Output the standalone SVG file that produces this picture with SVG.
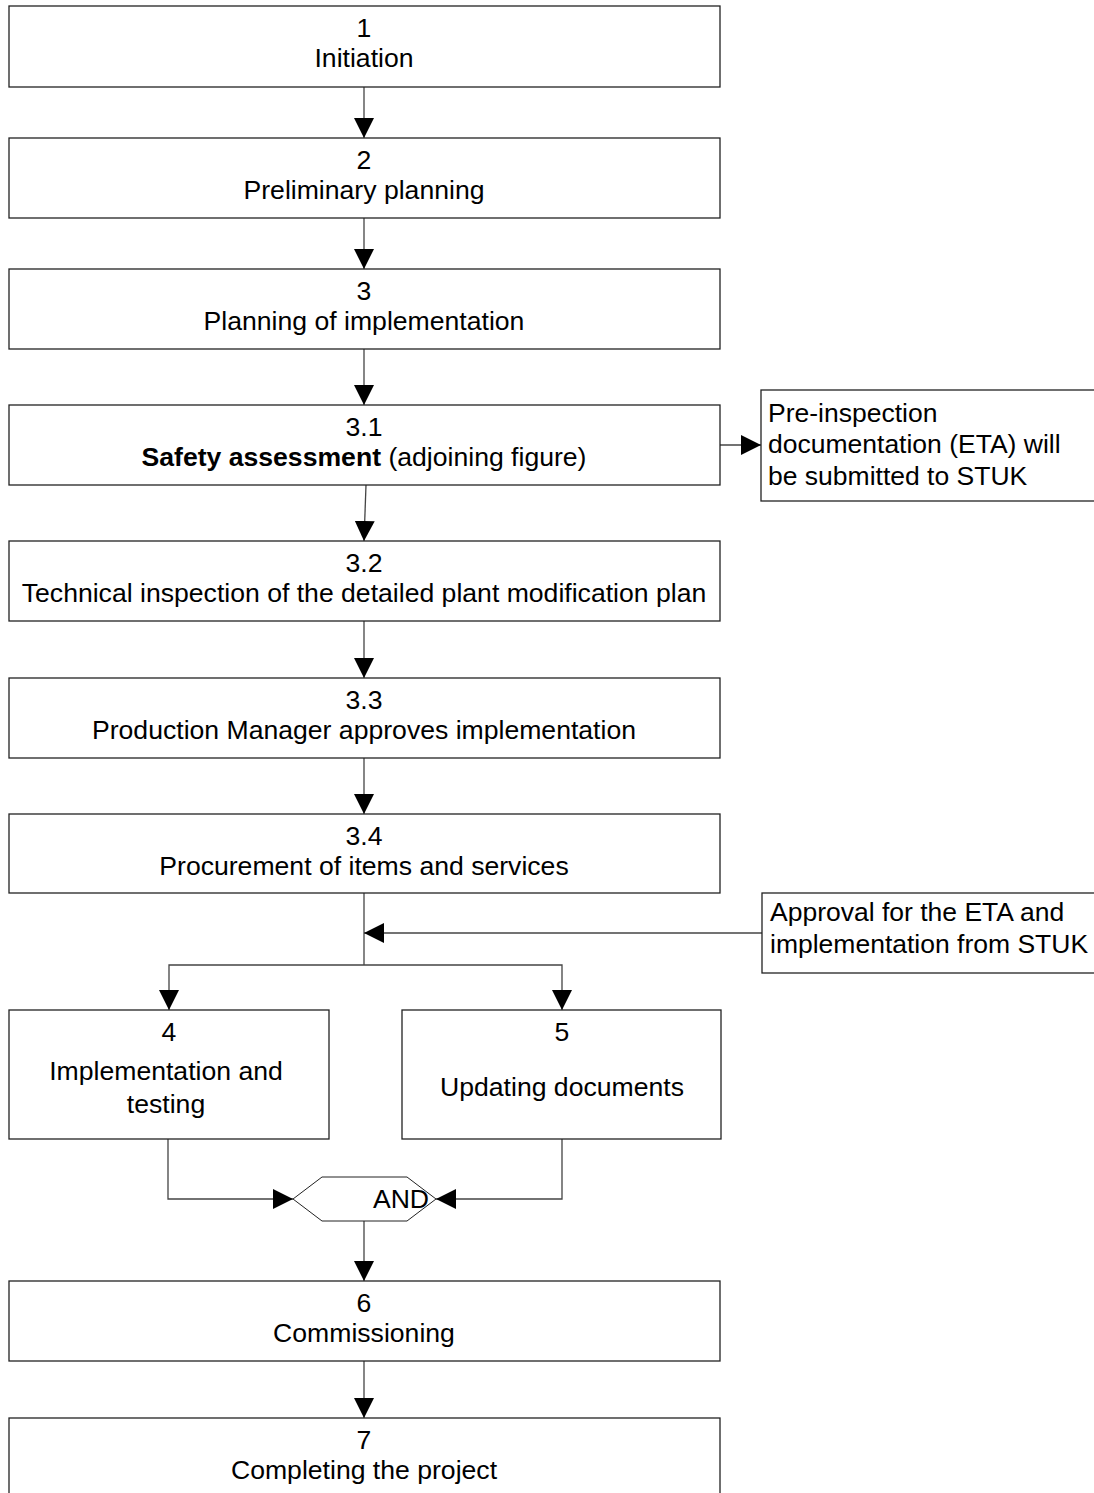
<svg xmlns="http://www.w3.org/2000/svg" width="1094" height="1493" viewBox="0 0 1094 1493">
  <style>
    .box { fill: #ffffff; stroke: #222222; stroke-width: 1.3; }
    .t { font-family: "Liberation Sans", Arial, sans-serif; font-size: 26.6px; fill: #000000; text-anchor: middle; }
    .tl { font-family: "Liberation Sans", Arial, sans-serif; font-size: 26.5px; fill: #000000; }
    .b { font-weight: bold; }
    .wire { fill: none; stroke: #444444; stroke-width: 1.3; }
  </style>
  <defs>
    <marker id="arrow" markerUnits="userSpaceOnUse" markerWidth="20" markerHeight="20" viewBox="0 0 20 20" refX="20" refY="10" orient="auto">
      <path d="M0,0 L20,10 L0,20 Z" fill="#000000"/>
    </marker>
  </defs>
  <rect width="1094" height="1493" fill="#ffffff"/>

  <!-- connectors -->
  <g id="connectors">
    <line class="wire" x1="364" y1="87" x2="364" y2="138" marker-end="url(#arrow)"/>
    <line class="wire" x1="364" y1="218" x2="364" y2="269" marker-end="url(#arrow)"/>
    <line class="wire" x1="364" y1="349" x2="364" y2="405" marker-end="url(#arrow)"/>
    <line class="wire" x1="720" y1="445" x2="761" y2="445" marker-end="url(#arrow)"/>
    <line class="wire" x1="366" y1="485" x2="364" y2="541" marker-end="url(#arrow)"/>
    <line class="wire" x1="364" y1="621" x2="364" y2="678" marker-end="url(#arrow)"/>
    <line class="wire" x1="364" y1="758" x2="364" y2="814" marker-end="url(#arrow)"/>
    <line class="wire" x1="364" y1="893" x2="364" y2="965"/>
    <line class="wire" x1="762" y1="933" x2="364" y2="933" marker-end="url(#arrow)"/>
    <polyline class="wire" points="364,965 169,965 169,1010" marker-end="url(#arrow)"/>
    <polyline class="wire" points="364,965 562,965 562,1010" marker-end="url(#arrow)"/>
    <polyline class="wire" points="168,1139 168,1199 293,1199" marker-end="url(#arrow)"/>
    <polyline class="wire" points="562,1139 562,1199 436,1199" marker-end="url(#arrow)"/>
    <line class="wire" x1="364" y1="1221" x2="364" y2="1281" marker-end="url(#arrow)"/>
    <line class="wire" x1="364" y1="1361" x2="364" y2="1418" marker-end="url(#arrow)"/>
  </g>

  <g id="n1">
    <rect class="box" x="9" y="6" width="711" height="81"/>
    <text class="t" x="364" y="37">1</text>
    <text class="t" x="364" y="67">Initiation</text>
  </g>
  <g id="n2">
    <rect class="box" x="9" y="138" width="711" height="80"/>
    <text class="t" x="364" y="169">2</text>
    <text class="t" x="364" y="199">Preliminary planning</text>
  </g>
  <g id="n3">
    <rect class="box" x="9" y="269" width="711" height="80"/>
    <text class="t" x="364" y="300">3</text>
    <text class="t" x="364" y="330">Planning of implementation</text>
  </g>
  <g id="n3_1">
    <rect class="box" x="9" y="405" width="711" height="80"/>
    <text class="t" x="364" y="436">3.1</text>
    <text class="t" x="364" y="466"><tspan class="b">Safety assessment</tspan> (adjoining figure)</text>
  </g>
  <g id="eta">
    <rect class="box" x="761" y="390" width="345" height="111"/>
    <text class="tl" x="768" y="422">Pre-inspection</text>
    <text class="tl" x="768" y="453">documentation (ETA) will</text>
    <text class="tl" x="768" y="485">be submitted to STUK</text>
  </g>
  <g id="n3_2">
    <rect class="box" x="9" y="541" width="711" height="80"/>
    <text class="t" x="364" y="572">3.2</text>
    <text class="t" x="364" y="602">Technical inspection of the detailed plant modification plan</text>
  </g>
  <g id="n3_3">
    <rect class="box" x="9" y="678" width="711" height="80"/>
    <text class="t" x="364" y="709">3.3</text>
    <text class="t" x="364" y="739">Production Manager approves implementation</text>
  </g>
  <g id="n3_4">
    <rect class="box" x="9" y="814" width="711" height="79"/>
    <text class="t" x="364" y="845">3.4</text>
    <text class="t" x="364" y="875">Procurement of items and services</text>
  </g>
  <g id="approval">
    <rect class="box" x="762" y="893" width="344" height="80"/>
    <text class="tl" x="770" y="921">Approval for the ETA and</text>
    <text class="tl" x="770" y="953">implementation from STUK</text>
  </g>
  <g id="n4">
    <rect class="box" x="9" y="1010" width="320" height="129"/>
    <text class="t" x="169" y="1041">4</text>
    <text class="t" x="166" y="1080">Implementation and</text>
    <text class="t" x="166" y="1113">testing</text>
  </g>
  <g id="n5">
    <rect class="box" x="402" y="1010" width="319" height="129"/>
    <text class="t" x="562" y="1041">5</text>
    <text class="t" x="562" y="1096">Updating documents</text>
  </g>
  <g id="and">
    <polygon points="293,1199 322,1177 407,1177 436,1199 407,1221 322,1221" fill="#ffffff" stroke="#222222" stroke-width="1"/>
    <text class="t" x="401" y="1208">AND</text>
  </g>
  <g id="n6">
    <rect class="box" x="9" y="1281" width="711" height="80"/>
    <text class="t" x="364" y="1312">6</text>
    <text class="t" x="364" y="1342">Commissioning</text>
  </g>
  <g id="n7">
    <rect class="box" x="9" y="1418" width="711" height="90"/>
    <text class="t" x="364" y="1449">7</text>
    <text class="t" x="364" y="1479">Completing the project</text>
  </g>
</svg>
